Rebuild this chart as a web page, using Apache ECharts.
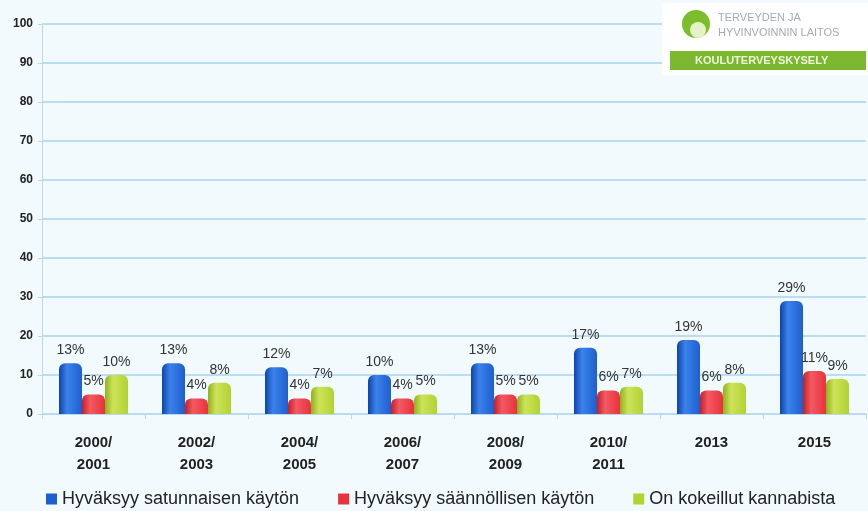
<!DOCTYPE html>
<html>
<head>
<meta charset="utf-8">
<script src="https://cdn.jsdelivr.net/npm/echarts@6/dist/echarts.min.js"></script>
<style>
  html, body { margin: 0; padding: 0; background: #ffffff; }
  #chart { width: 868px; height: 511px; }
</style>
</head>
<body>
<div id="chart"></div>
<script>
  // vuodet
  const years = ['2000/\n2001', '2002/\n2003', '2004/\n2005', '2006/\n2007', '2008/\n2009', '2010/\n2011', '2013', '2015'];
  const occasional = [13, 13, 12, 10, 13, 17, 19, 29];
  const regular = [5, 4, 4, 4, 5, 6, 6, 11];
  const tried = [10, 8, 7, 5, 5, 7, 8, 9];
  const seriesNames = ['Hyväksyy satunnaisen käytön', 'Hyväksyy säännöllisen käytön', 'On kokeillut kannabista'];
  const colors = ['#1b5fd3', '#e8323d', '#b2d232'];

  // sylinterimäinen liukuväri
  function cyl(dark, mid, light) {
    return new echarts.graphic.LinearGradient(0, 0, 1, 0, [
      { offset: 0, color: dark },
      { offset: 0.35, color: light },
      { offset: 1, color: mid }
    ]);
  }

  function bar(name, data, color) {
    return {
      name: name,
      type: 'bar',
      data: data,
      barWidth: 23,
      barGap: '0%',
      itemStyle: { color: color, borderRadius: [6, 6, 0, 0] },
      label: {
        show: true,
        position: 'top',
        distance: 6,
        formatter: '{c}%',
        color: '#333',
        fontSize: 14,
        fontFamily: 'Liberation Sans'
      }
    };
  }

  const chart = echarts.init(document.getElementById('chart'));
  chart.setOption({
    backgroundColor: '#f2fafd',
    color: colors,
    grid: { left: 42, right: 2, top: 24, bottom: 97 },
    legend: {
      bottom: 3,
      left: 46,
      right: 0,
      padding: 0,
      itemWidth: 11,
      itemHeight: 11,
      itemGap: 39,
      icon: 'rect',
      textStyle: { fontSize: 18, color: '#222', fontFamily: 'Liberation Sans' },
      data: seriesNames.map((n, i) => ({ name: n, itemStyle: { color: colors[i] } }))
    },
    xAxis: {
      type: 'category',
      data: years,
      axisLine: { lineStyle: { color: '#b7d9ec' } },
      axisTick: { show: true, lineStyle: { color: '#b7d9ec' } },
      axisLabel: {
        margin: 18,
        fontSize: 15,
        fontWeight: 'bold',
        lineHeight: 22,
        color: '#222',
        fontFamily: 'Liberation Sans'
      }
    },
    yAxis: {
      type: 'value',
      min: 0,
      max: 100,
      interval: 10,
      axisLine: { show: true, lineStyle: { color: '#b7d9ec' } },
      axisTick: { show: true, length: 4, lineStyle: { color: '#b7d9ec' } },
      splitLine: { lineStyle: { color: '#a9d3ec', width: 1.5 } },
      axisLabel: {
        margin: 9,
        fontSize: 12,
        fontWeight: 'bold',
        color: '#222',
        fontFamily: 'Liberation Sans'
      }
    },
    graphic: [
      { type: 'rect', z: 100, left: 662, top: 3, shape: { width: 206, height: 72 }, style: { fill: '#ffffff' } },
      { type: 'circle', z: 101, left: 682, top: 10, shape: { r: 14 }, style: { fill: '#7cbd2a' } },
      { type: 'circle', z: 102, left: 690, top: 22, shape: { r: 8 }, style: { fill: '#e4f2c8' } },
      { type: 'text', z: 101, left: 718, top: 12, style: { text: 'TERVEYDEN JA', fontSize: 11, fill: '#a3acb2', fontFamily: 'Liberation Sans' } },
      { type: 'text', z: 101, left: 718, top: 27, style: { text: 'HYVINVOINNIN LAITOS', fontSize: 11, fill: '#a3acb2', fontFamily: 'Liberation Sans' } },
      { type: 'rect', z: 101, left: 670, top: 51, shape: { width: 196, height: 19 }, style: { fill: '#7cb82f' } },
      { type: 'text', z: 102, left: 695, top: 55, style: { text: 'KOULUTERVEYSKYSELY', fontSize: 11, fontWeight: 'bold', fill: '#eef6dc', fontFamily: 'Liberation Sans' } }
    ],
    series: [
      bar(seriesNames[0], occasional, cyl('#0e44a8', '#1d5fcf', '#3b82ea')),
      bar(seriesNames[1], regular, cyl('#c41f28', '#e8323d', '#f25a62')),
      bar(seriesNames[2], tried, cyl('#8fb21c', '#b2d232', '#cde35a'))
    ]
  });
</script>
</body>
</html>
